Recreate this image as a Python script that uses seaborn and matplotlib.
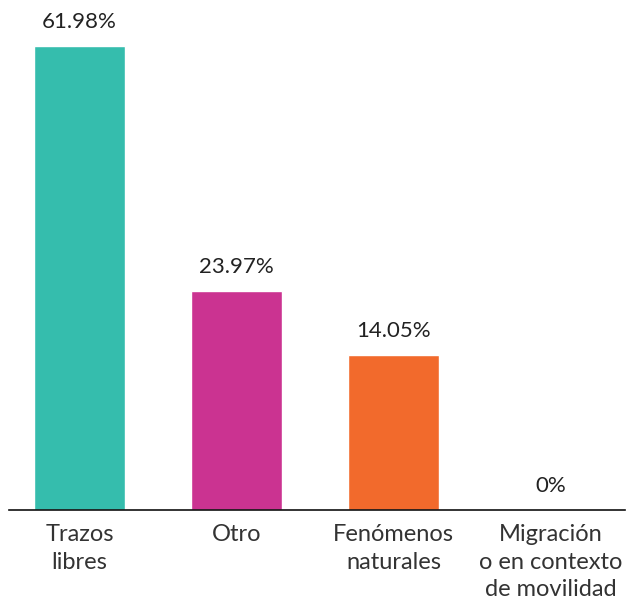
import matplotlib
matplotlib.use('Agg')
import matplotlib.pyplot as plt
import seaborn as sns
import pandas as pd

# chart data
categories = ['Trazos\nlibres', 'Otro', 'Fenómenos\nnaturales', 'Migración\no en contexto\nde movilidad']
values = [61.98, 23.97, 14.05, 0.0]
labels = ['61.98%', '23.97%', '14.05%', '0%']
colors = ['#35BDAD', '#CB3391', '#F26A2C', '#9E9E9E']

sns.set_theme(style='white')
plt.rcParams['font.family'] = ['Lato', 'DejaVu Sans']

df = pd.DataFrame({'cat': categories, 'val': values})

fig = plt.figure(figsize=(6.3, 6.11), dpi=100)
ax = fig.add_axes([9 / 630, 101 / 611, 616 / 630, 0.82])

sns.barplot(data=df, x='cat', y='val', hue='cat', palette=colors,
            width=0.58, legend=False, saturation=1, ax=ax)

# axis starts below zero, every bar is drawn down to the axis line
floor = -10
for patch, v in zip(ax.patches, values):
    patch.set_y(floor)
    patch.set_height(v - floor if v > 0 else 0)

for i, (patch, lab) in enumerate(zip(ax.patches, labels)):
    top = patch.get_y() + patch.get_height()
    ax.text(i, top + 2.2, lab, ha='center', va='bottom', fontsize=16,
            color='#222222')

ax.set_xlim(-0.449, 3.475)
ax.set_ylim(floor, floor + 0.82 * 611 / 6.446)
ax.set_xlabel('')
ax.set_ylabel('')
ax.set_yticks([])
ax.tick_params(axis='x', length=0, pad=10, labelsize=17, labelcolor='#333333')
for t in ax.get_xticklabels():
    t.set_linespacing(1.4)

sns.despine(ax=ax, left=True, top=True, right=True)
ax.spines['bottom'].set_color('#111111')
ax.spines['bottom'].set_linewidth(1.2)

fig.savefig('out.png', dpi=100)
